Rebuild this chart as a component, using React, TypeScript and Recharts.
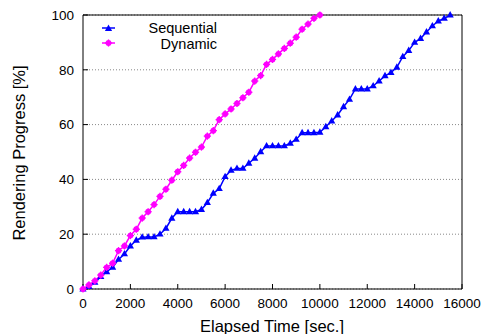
import { LineChart, Line, XAxis, YAxis, CartesianGrid } from "recharts";

const times = [
  0, 250, 500, 750, 1000, 1250, 1500, 1750, 2000, 2250, 2500, 2750, 3000,
  3250, 3500, 3750, 4000, 4250, 4500, 4750, 5000, 5250, 5500, 5750, 6000,
  6250, 6500, 6750, 7000, 7250, 7500, 7750, 8000, 8250, 8500, 8750, 9000,
  9250, 9500, 9750, 10000, 10250, 10500, 10750, 11000, 11250, 11500, 11750,
  12000, 12250, 12500, 12750, 13000, 13250, 13500, 13750, 14000, 14250,
  14500, 14750, 15000, 15250, 15500,
];

const sequential = [
  0, 0.9, 2.4, 4.5, 6.3, 7.9, 10.8, 12.8, 15.7, 17.8, 18.9, 19, 19, 20, 22.1,
  25.8, 28.2, 28.2, 28.2, 28.2, 29, 31.5, 34.9, 36.6, 41, 43.3, 44, 44, 45.9,
  47.7, 50.1, 52.2, 52.2, 52.2, 52.2, 53.2, 54.6, 57, 57, 57, 57.2, 59.2,
  61.3, 63.5, 66.5, 69.2, 73, 73, 73, 74.1, 75.9, 77.8, 79, 80.9, 84.8, 87,
  90, 91.4, 93.8, 96, 97.8, 98.8, 100,
];

const dynamic = [
  0, 1.5, 3, 5.1, 7.9, 9.4, 14, 15.7, 19.5, 21.8, 25.9, 28.2, 30.8, 33.8,
  36.4, 39.7, 42.8, 45.1, 47.8, 49.9, 51.8, 55.8, 57.8, 61.8, 63.9, 65.7,
  67.7, 69.8, 71.8, 75.9, 77.9, 82, 83.8, 85.8, 87.8, 89.7, 91.9, 94.8, 96.7,
  98.8, 100,
];

const xTicks = [0, 2000, 4000, 6000, 8000, 10000, 12000, 14000, 16000];
const yTicks = [0, 20, 40, 60, 80, 100];
const seriesNames = ["Sequential", "Dynamic"];

const BLUE = "#0000ff";
const PINK = "#ff00ff";
const FONT = "'Liberation Sans', Arial, Helvetica, sans-serif";

const data = times.map((t, i) => ({
  t,
  seq: sequential[i],
  dyn: i < dynamic.length ? dynamic[i] : null,
}));

const Triangle = ({ cx, cy }: { cx: number; cy: number }) => (
  <polygon
    points={`${cx},${cy - 4} ${cx - 3.6},${cy + 2.4} ${cx + 3.6},${cy + 2.4}`}
    fill={BLUE}
  />
);

const Cross = ({ cx, cy }: { cx: number; cy: number }) => (
  <g>
    <circle cx={cx} cy={cy} r={2.9} fill={PINK} />
    <line x1={cx - 3.6} y1={cy} x2={cx + 3.6} y2={cy} stroke={PINK} strokeWidth={1.3} />
    <line x1={cx} y1={cy - 3.6} x2={cx} y2={cy + 3.6} stroke={PINK} strokeWidth={1.3} />
  </g>
);

const triDot = (p: any) =>
  p.cy == null ? <g key={p.key ?? p.index} /> : <Triangle key={p.key ?? p.index} cx={p.cx} cy={p.cy} />;
const crossDot = (p: any) =>
  p.cy == null ? <g key={p.key ?? p.index} /> : <Cross key={p.key ?? p.index} cx={p.cx} cy={p.cy} />;

const tickStyle = { fontSize: 13.5, fill: "#000", fontFamily: FONT };

export default function App() {
  return (
    <div style={{ position: "absolute", left: 0, top: 0, width: 484, height: 334 }}>
      <LineChart
        width={484}
        height={334}
        data={data}
        margin={{ top: 14, right: 21, bottom: 0, left: 0 }}
        style={{ fontFamily: FONT }}
      >
        <CartesianGrid
          vertical={false}
          stroke="#888"
          strokeDasharray="1 2"
          strokeWidth={1}
        />
        <XAxis
          dataKey="t"
          type="number"
          domain={[0, 16000]}
          ticks={xTicks}
          height={45}
          tickSize={-5}
          tickMargin={14}
          tick={tickStyle}
          stroke="#000"
          interval={0}
        />
        <XAxis
          xAxisId="top"
          dataKey="t"
          orientation="top"
          type="number"
          domain={[0, 16000]}
          ticks={xTicks}
          height={1}
          tickSize={-5}
          tick={false}
          stroke="#000"
          interval={0}
        />
        <YAxis
          type="number"
          domain={[0, 100]}
          ticks={yTicks}
          width={83}
          tickSize={-5}
          tickMargin={14}
          tick={tickStyle}
          stroke="#000"
          interval={0}
        />
        <YAxis
          yAxisId="right"
          orientation="right"
          type="number"
          domain={[0, 100]}
          ticks={yTicks}
          width={1}
          tickSize={-5}
          tick={false}
          stroke="#000"
          interval={0}
        />
        <Line
          dataKey="seq"
          stroke={BLUE}
          strokeWidth={1.5}
          dot={triDot}
          isAnimationActive={false}
        />
        <Line
          dataKey="dyn"
          stroke={PINK}
          strokeWidth={1.5}
          dot={crossDot}
          isAnimationActive={false}
        />
        {/* invisible series so the top and right axes get drawn */}
        <Line
          dataKey="seq"
          xAxisId="top"
          yAxisId="right"
          stroke="none"
          dot={false}
          activeDot={false}
          legendType="none"
          isAnimationActive={false}
        />
      </LineChart>
      <svg
        width={484}
        height={334}
        style={{ position: "absolute", left: 0, top: 0, pointerEvents: "none" }}
        fontFamily={FONT}
      >
        <line x1={102} y1={28} x2={115} y2={28} stroke={BLUE} strokeWidth={1.5} />
        <Triangle cx={108.5} cy={28.5} />
        <text x={217} y={27.5} textAnchor="end" dominantBaseline="central" fontSize={14.5} fill="#000">
          {seriesNames[0]}
        </text>
        <line x1={102} y1={43} x2={115} y2={43} stroke={PINK} strokeWidth={1.5} />
        <Cross cx={108.5} cy={43} />
        <text x={217} y={43.5} textAnchor="end" dominantBaseline="central" fontSize={14.5} fill="#000">
          {seriesNames[1]}
        </text>
        <text x={272} y={332} textAnchor="middle" fontSize={16.5} fill="#000">
          Elapsed Time [sec.]
        </text>
        <text
          x={0}
          y={0}
          transform="translate(19,153) rotate(-90)"
          textAnchor="middle"
          dominantBaseline="central"
          fontSize={16.5}
          fill="#000"
        >
          Rendering Progress [%]
        </text>
      </svg>
    </div>
  );
}
